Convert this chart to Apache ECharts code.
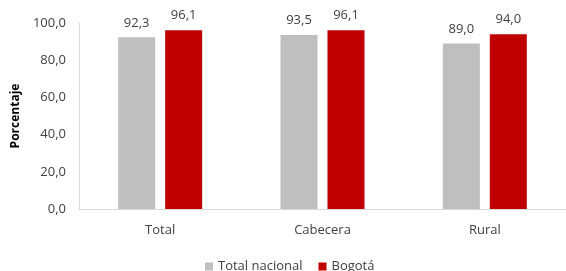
<!DOCTYPE html>
<html><head><meta charset="utf-8">
<script src="https://cdn.jsdelivr.net/npm/echarts@6/dist/echarts.min.js"></script>
<style>html,body{margin:0;padding:0;background:#fff}#c{width:566px;height:271px}</style>
</head><body><div id="c"></div>
<script>
const categories = ['Total', 'Cabecera', 'Rural'];
const totalNacional = [92.3, 93.5, 89.0];
const bogota = [96.1, 96.1, 94.0];
const seriesNames = ['Total nacional', 'Bogotá'];
const yTicks = [0, 20, 40, 60, 80, 100];

const font = 'Open Sans';
const fmt = v => v.toFixed(1).replace('.', ',');
const chart = echarts.init(document.getElementById('c'), null, {renderer: 'canvas'});
chart.setOption({
  animation: false,
  textStyle: {fontFamily: font},
  grid: {left: 79, top: 23, width: 490, height: 186, containLabel: false},
  legend: {
    top: 255, left: 200, itemWidth: 8, itemHeight: 8, itemGap: 16,
    icon: 'rect',
    textStyle: {fontFamily: font, fontSize: 13, color: '#404040'},
    data: seriesNames
  },
  xAxis: {
    type: 'category', data: categories,
    axisLine: {lineStyle: {color: '#d9d9d9'}},
    axisTick: {show: false},
    axisLabel: {fontFamily: font, fontSize: 13, color: '#404040', margin: 15}
  },
  yAxis: {
    type: 'value', min: yTicks[0], max: yTicks[yTicks.length - 1], interval: 20,
    name: 'Porcentaje', nameLocation: 'middle', nameGap: 57,
    nameTextStyle: {fontFamily: font, fontSize: 12, fontWeight: 'bold', color: '#000'},
    axisLine: {show: true, lineStyle: {color: '#d9d9d9'}},
    axisTick: {show: false},
    splitLine: {show: false},
    axisLabel: {fontFamily: font, fontSize: 13, color: '#404040', margin: 13, formatter: v => fmt(v)}
  },
  series: [
    {name: seriesNames[0], type: 'bar', data: totalNacional, barWidth: 37, barGap: '27%',
     itemStyle: {color: '#bfbfbf'},
     label: {show: true, position: 'top', distance: 8, fontFamily: font, fontSize: 13, color: '#404040', formatter: p => fmt(p.value)}},
    {name: seriesNames[1], type: 'bar', data: bogota, barWidth: 37,
     itemStyle: {color: '#c00000'},
     label: {show: true, position: 'top', distance: 8, fontFamily: font, fontSize: 13, color: '#404040', formatter: p => fmt(p.value)}}
  ]
});
</script></body></html>
